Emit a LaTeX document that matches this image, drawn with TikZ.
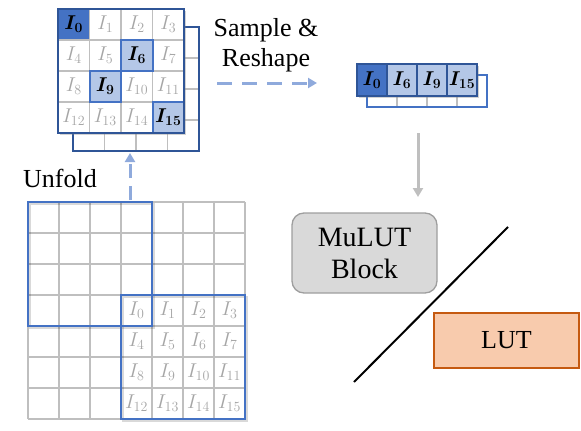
\RequirePackage{fix-cm}
\documentclass[tikz,border=0pt]{standalone}
\usepackage{fontspec}
\setmainfont{Liberation Serif}
\newfontfamily\timesfont{Liberation Serif}
\usetikzlibrary{arrows.meta,shadows}
\definecolor{darkblue}{HTML}{2F5597}
\definecolor{midblue}{HTML}{4472C4}
\definecolor{lightblue}{HTML}{B4C7E7}
\definecolor{arrowblue}{HTML}{8FAADC}
\definecolor{gridgray}{HTML}{BFBFBF}
\definecolor{textgray}{HTML}{A6A6A6}
\definecolor{mulutfill}{HTML}{D9D9D9}
\definecolor{mulutdraw}{HTML}{9E9E9E}
\definecolor{lutfill}{HTML}{F8CBAD}
\definecolor{lutdraw}{HTML}{C55A11}
\begin{document}
\begin{tikzpicture}[x=1pt,y=-1pt,
  gridline/.style={draw=gridgray,line width=1.3pt},
  cellbase/.style={inner sep=0pt,outer sep=0pt,draw=gridgray,line width=1.3pt,font=\fontsize{20}{22}\selectfont},
  cpl/.style={fill=white,text=textgray},
  chl/.style={fill=lightblue,text=black,font=\fontsize{20}{22}\selectfont\boldmath},
  cdk/.style={fill=midblue,text=black,font=\fontsize{20}{22}\selectfont\boldmath},
  vcell/.style={inner sep=0pt,outer sep=0pt,draw=darkblue,line width=1.3pt,minimum width=30pt,minimum height=32pt,text=black,font=\fontsize{20}{22}\selectfont\boldmath},
  bluebox/.style={draw=midblue,line width=2.4pt},
  dasharrow/.style={draw=arrowblue,line width=3pt,dash pattern=on 15pt off 10pt,-{Triangle[length=9pt,width=10pt]}},
  grayarrow/.style={draw=gridgray,line width=3pt,-{Triangle[length=9pt,width=10pt]}},
  label/.style={font=\timesfont\fontsize{26}{30}\selectfont,align=center,inner sep=0pt}
]
\useasboundingbox (0,0) rectangle (581,431);

% ---------- top grid: back layer ----------
\fill[white] (73,27) rectangle (199,151);
\foreach \k in {1,2,3}{
  \draw[gridline] (73+31.5*\k,27) -- (73+31.5*\k,151);
  \draw[gridline] (73,27+31*\k) -- (199,27+31*\k);
}
\draw[draw=darkblue,line width=1.6pt] (73,27) rectangle (199,151);

% ---------- top grid: front layer ----------
\fill[white,drop shadow={shadow xshift=2pt,shadow yshift=-2pt,opacity=0.35}] (58,9) rectangle (184,133);
\foreach \i/\st in {0/cdk,1/cpl,2/cpl,3/cpl,4/cpl,5/cpl,6/chl,7/cpl,8/cpl,9/chl,10/cpl,11/cpl,12/cpl,13/cpl,14/cpl,15/chl}{
  \pgfmathtruncatemacro{\col}{mod(\i,4)}
  \pgfmathtruncatemacro{\row}{int(\i/4)}
  \node[cellbase,\st,minimum width=31.5pt,minimum height=31pt] (t\i) at (58+31.5*\col+15.75,9+31*\row+15.5) {$I_{\i}$};
}
\foreach \i in {6,9,15}{
  \draw[draw=midblue,line width=2pt] (t\i.north west) rectangle (t\i.south east);
}
\draw[draw=darkblue,line width=2.4pt] (58,9) rectangle (184,133);

% ---------- sample & reshape ----------
\node[label] (sr) at (266,45) {Sample \&\\Reshape};
\coordinate (sa) at (217,83);
\coordinate (sb) at (317,83);
\draw[dasharrow] (sa) -- (sb);

% ---------- vector ----------
\fill[white] (367,75) rectangle (487,107);
\foreach \k in {1,2,3}{
  \draw[gridline] (367+30*\k,75) -- (367+30*\k,107);
}
\draw[draw=midblue,line width=1.4pt] (367,75) rectangle (487,107);
\fill[white,drop shadow={shadow xshift=2pt,shadow yshift=-2pt,opacity=0.35}] (357,64) rectangle (477,96);
\node[vcell,fill=midblue] (v0) at (372,80) {$I_0$};
\node[vcell,fill=lightblue] (v1) at (402,80) {$I_6$};
\node[vcell,fill=lightblue] (v2) at (432,80) {$I_9$};
\node[vcell,fill=lightblue] (v3) at (462,80) {$I_{15}$};
\draw[draw=darkblue,line width=2pt] (357,64) rectangle (477,96);

% ---------- gray arrow ----------
\coordinate (ga) at (418,133);
\coordinate (gb) at (418,197);
\draw[grayarrow] (ga) -- (gb);

% ---------- bottom grid ----------
\fill[white] (28,202) rectangle (245,419);
\foreach \k in {0,...,7}{
  \draw[gridline] (28+31*\k,202) -- (28+31*\k,419);
  \draw[gridline] (28,202+31*\k) -- (245,202+31*\k);
}
\foreach \i in {0,...,15}{
  \pgfmathtruncatemacro{\col}{mod(\i,4)}
  \pgfmathtruncatemacro{\row}{int(\i/4)}
  \node[inner sep=0pt,text=textgray,font=\fontsize{20}{22}\selectfont] (b\i) at (121+31*\col+15.5,295+31*\row+15.5) {$I_{\i}$};
}
\draw[black,opacity=0.15,line width=2.4pt] (30,204) rectangle (154,328);
\draw[black,opacity=0.15,line width=2.4pt] (123,297) rectangle (247,421);
\draw[bluebox] (28,202) rectangle (152,326);
\draw[bluebox] (121,295) rectangle (245,419);

% ---------- unfold ----------
\node[label] (uf) at (60,178) {Unfold};
\coordinate (ua) at (130,200);
\coordinate (ub) at (130,153);
\draw[dasharrow,dash pattern=on 14pt off 8pt] (ua) -- (ub);

% ---------- MuLUT / LUT ----------
\node[draw=mulutdraw,fill=mulutfill,line width=1.3pt,rounded corners=12pt,minimum width=145pt,minimum height=80pt,font=\timesfont\fontsize{28}{32}\selectfont,align=center,inner sep=0pt] (mb) at (364.5,253) {MuLUT\\Block};
\node[draw=lutdraw,fill=lutfill,line width=1.3pt,minimum width=145pt,minimum height=55pt,font=\timesfont\fontsize{26}{30}\selectfont,inner sep=0pt] (lut) at (506.5,340.5) {LUT};
\coordinate (la) at (508,227);
\coordinate (lb) at (354,382);
\draw[black,line width=2pt] (la) -- (lb);
\end{tikzpicture}
\end{document}
